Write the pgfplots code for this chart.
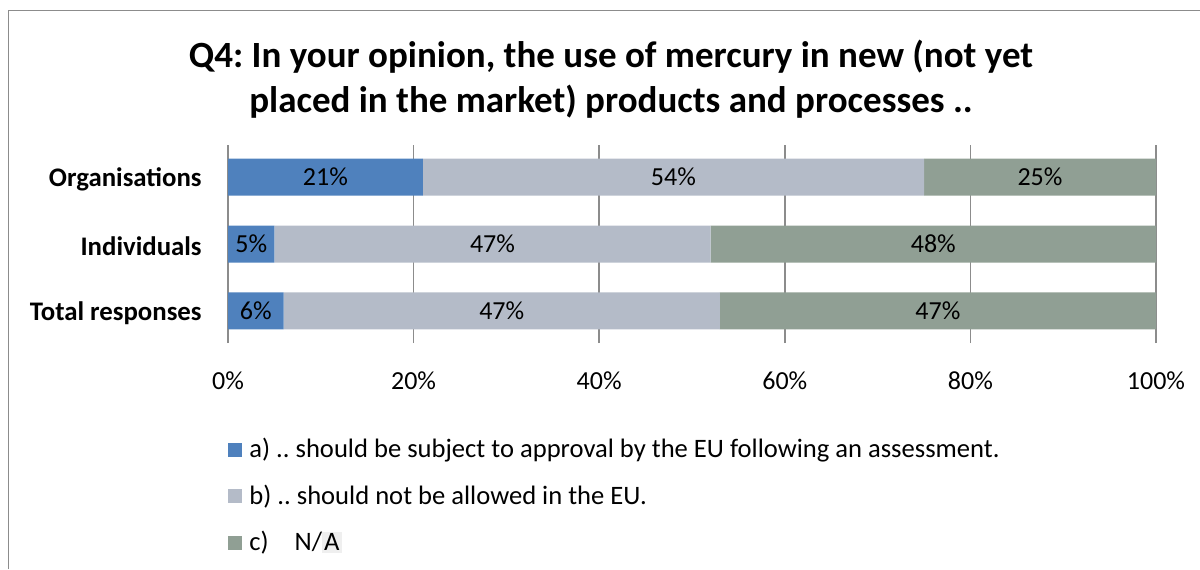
\documentclass[border=0pt]{standalone}
\usepackage{pgfplots}
\pgfplotsset{compat=1.18}
\usepackage{fontspec}
\setmainfont{Carlito}
\frenchspacing
\definecolor{serA}{HTML}{4F81BD}
\definecolor{serB}{HTML}{B4BBC8}
\definecolor{serC}{HTML}{909F94}
\definecolor{gridgray}{HTML}{8C8C8C}

% 1 px of the reference = 0.5pt
\pgfplotsset{
  mybase/.style={
    width=464pt, height=99pt, scale only axis,
    at={(114pt,-171.5pt)}, anchor=south west,
    xmin=0, xmax=100, ymin=-0.48, ymax=2.48,
  },
  sq/.style={legend image code/.code={\fill[##1] (0pt,-3.5pt) rectangle (7pt,3.5pt);}},
}

\begin{document}
\begin{tikzpicture}
\useasboundingbox (0pt,0pt) rectangle (600pt,-284.5pt);
\draw[gridgray, line width=0.8pt] (4.25pt,-284.5pt) -- (4.25pt,-5.25pt) -- (600pt,-5.25pt);
\node[font=\fontsize{18.5}{22.5}\selectfont\bfseries, align=center] at (305.5pt,-39.5pt)
  {Q4: In your opinion, the use of mercury in new (not yet\\placed in the market) products and processes ..};

\begin{axis}[mybase,
  xbar stacked, bar width=18.5pt,
  xtick={0,20,40,60,80,100},
  xticklabels={0\%,20\%,40\%,60\%,80\%,100\%},
  ytick={0,1,2},
  yticklabels={Total responses,Individuals,Organisations},
  xmajorgrids, grid style={gridgray, line width=0.8pt},
  major tick length=0pt,
  axis line style={draw=none},
  tick label style={font=\fontsize{13}{15}\selectfont},
  xticklabel style={anchor=center, yshift=-19pt},
  yticklabel style={font=\fontsize{13.4}{15}\selectfont\bfseries, anchor=east, inner sep=0pt, xshift=-13pt, yshift=-1pt},
  legend style={at={(axis description cs:0,-0.46)}, anchor=north west,
    draw=none, fill=none, font=\fontsize{13.3}{15}\selectfont,
    row sep=8pt, column sep=1.5pt, inner sep=0pt},
  legend cell align=left,
]
\addplot[fill=serA, draw=none, sq] coordinates {(6,0) (5,1) (21,2)};
\addplot[fill=serB, draw=none, sq] coordinates {(47,0) (47,1) (54,2)};
\addplot[fill=serC, draw=none, sq] coordinates {(47,0) (48,1) (25,2)};
\legend{a) .. should be subject to approval by the EU following an assessment.,
  b) .. should not be allowed in the EU.,
  c)\hspace{10pt} N/{\setlength{\fboxsep}{1pt}\colorbox[HTML]{EFEFEF}{A}}}
\end{axis}

\begin{axis}[mybase, hide axis]
\addplot[draw=none, mark=none, nodes near coords={\pgfplotspointmeta\%},
  point meta=explicit symbolic,
  every node near coord/.append style={anchor=center, font=\fontsize{13}{15}\selectfont, text=black}]
  coordinates {
  (3,0) [6] (29.5,0) [47] (76.5,0) [47]
  (2.5,1) [5] (28.5,1) [47] (76,1) [48]
  (10.5,2) [21] (48,2) [54] (87.5,2) [25]
  };
\end{axis}
\end{tikzpicture}
\end{document}
